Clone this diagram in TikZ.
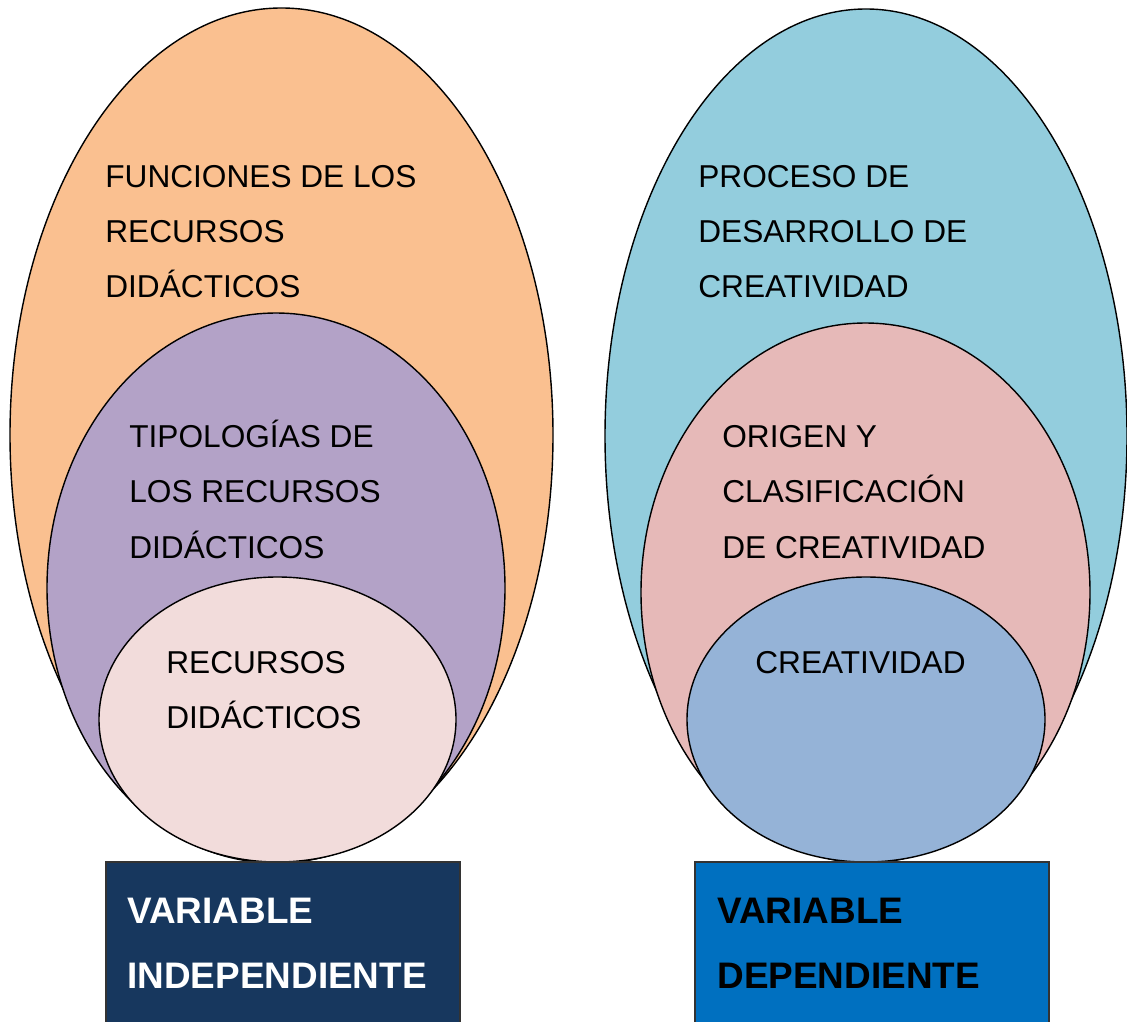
\documentclass[tikz,border=0pt]{standalone}
\usepackage{fontspec}
\setmainfont{Liberation Sans}
\usepackage{tikz}
\definecolor{orangeA}{HTML}{FAC090}
\definecolor{purpleA}{HTML}{B3A2C7}
\definecolor{pinkA}{HTML}{F2DCDB}
\definecolor{tealB}{HTML}{93CDDD}
\definecolor{pinkB}{HTML}{E6B9B8}
\definecolor{blueB}{HTML}{95B3D7}
\definecolor{navyA}{HTML}{17375E}
\definecolor{blueBox}{HTML}{0070C0}
\tikzset{%
  myellipse/.style={draw=black, line width=0.8pt},
  mylabel/.style={anchor=base west, inner sep=0pt, align=left,
    font=\fontsize{18}{31.3}\selectfont},
  mybox/.style={draw=black!80, line width=0.6pt},
  myvar/.style={anchor=base west, inner sep=0pt, align=left,
    font=\fontsize{21}{36.6}\selectfont\bfseries}
}

\begin{document}
\begin{tikzpicture}[x=0.2mm, y=-0.2mm]
  \useasboundingbox (0,0) rectangle (1127,1022);
  % independiente
  \draw[myellipse, fill=orangeA] (281.5,435) ellipse [x radius=271.5, y radius=427];
  \draw[myellipse, fill=purpleA] (276,588) ellipse [x radius=229, y radius=275];
  \draw[myellipse, fill=pinkA] (277.5,719.5) ellipse [x radius=178.5, y radius=142.5];
  \node[mylabel] (fun) at (105,298) {FUNCIONES DE LOS\\RECURSOS\\DIDÁCTICOS};
  \node[mylabel] (tip) at (129,558) {TIPOLOGÍAS DE\\LOS RECURSOS\\DIDÁCTICOS};
  \node[mylabel] (rec) at (166,728) {RECURSOS\\DIDÁCTICOS};
  % dependiente
  \draw[myellipse, fill=tealB] (866,436) ellipse [x radius=261, y radius=427];
  \draw[myellipse, fill=pinkB] (865.5,592.5) ellipse [x radius=224.5, y radius=269.5];
  \draw[myellipse, fill=blueB] (866,719.5) ellipse [x radius=179, y radius=142.5];
  \node[mylabel] (pro) at (698,298) {PROCESO DE\\DESARROLLO DE\\CREATIVIDAD};
  \node[mylabel] (ori) at (722,558) {ORIGEN Y\\CLASIFICACIÓN\\DE CREATIVIDAD};
  \node[mylabel] (cre) at (755,673) {CREATIVIDAD};
  % cajas
  \draw[mybox, fill=navyA] (106,862) rectangle (460,1040);
  \draw[mybox, fill=blueBox] (695,862) rectangle (1049,1040);
  \node[myvar, text=white] (vi) at (127,988) {VARIABLE\\INDEPENDIENTE};
  \node[myvar, text=black] (vd) at (717,988) {VARIABLE\\DEPENDIENTE};
\end{tikzpicture}
\end{document}
